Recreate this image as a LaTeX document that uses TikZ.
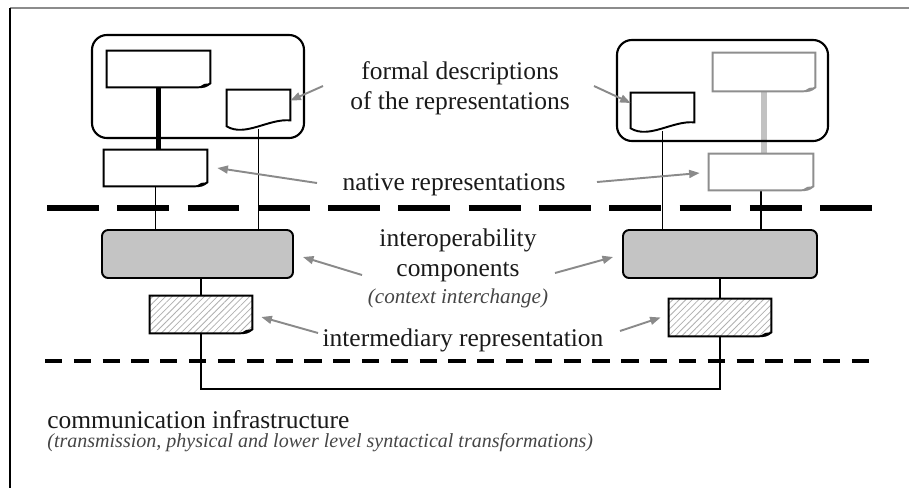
\documentclass[tikz,border=0pt]{standalone}
\usepackage{fontspec}
\setmainfont{Liberation Serif}
\usetikzlibrary{arrows.meta,calc,fit,backgrounds,patterns.meta}
\definecolor{arrowgray}{HTML}{8A8A8A}
\definecolor{compgray}{HTML}{C4C4C4}
\definecolor{docgray}{HTML}{8E8E8E}
\definecolor{linkgray}{HTML}{C2C2C2}
\definecolor{hatchgray}{HTML}{B0B0B0}
\definecolor{framegray}{HTML}{8C8C8C}
\definecolor{textblack}{HTML}{1A1A1A}
\definecolor{subtext}{HTML}{454545}

\newcommand\foldoc[3]{%
  \draw[#2] (#1.north west) -- (#1.north east) -- ($(#1.south east)+(0,-4)$)
    .. controls ($(#1.south east)+(-5,-0.5)$) .. ($(#1.south east)+(-13,0)$) -- (#1.south west) -- cycle;
  \fill[#3] ($(#1.south east)+(-12,0)$) .. controls ($(#1.south east)+(-5,-0.5)$) .. ($(#1.south east)+(0,-4)$)
    -- ($(#1.south east)+(-6,-3.5)$) -- cycle;}
\newcommand\wavedoc[1]{%
  \draw[docline,fill=white] ($(#1.south west)+(0,-3)$) -- (#1.north west) -- (#1.north east)
    -- ($(#1.south east)+(0,-9)$) .. controls ($(#1.south east)+(-22,-11)$) and ($(#1.south east)+(-45,8)$)
    .. ($(#1.south west)+(0,-3)$) -- cycle;}

\begin{document}
\begin{tikzpicture}[x=0.02cm,y=-0.02cm,
    sysbox/.style={draw,line width=1.2pt,rounded corners=8.5pt,inner sep=0pt},
    compbox/.style={draw,fill=compgray,line width=1.1pt,rounded corners=3.5pt,inner sep=0pt},
    docspot/.style={inner sep=0pt},
    docline/.style={line width=1.1pt},
    hatch/.style={preaction={fill=white},pattern={Lines[angle=45,distance=2.6pt,line width=0.45pt]},pattern color=hatchgray},
    link/.style={line width=1.1pt},
    pointer/.style={arrowgray,line width=1.1pt,-{Triangle[length=6pt,width=4.5pt]}},
    lbl/.style={font=\fontsize{14.5}{17}\selectfont,align=center,text=textblack,inner sep=0pt},
    sublbl/.style={font=\fontsize{12}{14}\selectfont\itshape,align=center,text=subtext,inner sep=0pt}]
  \useasboundingbox (0,0) rectangle (909,488);
  \draw[framegray,line width=1.5pt] (10,8) -- (909,8);
  \draw[line width=0.9pt] (10,8) -- (10,488);

  \node[sysbox,fit={(92,35) (304,138)}] (lsys) {};
  \node[sysbox,fit={(617,40) (828,141)}] (rsys) {};

  \node[docspot,fit={(107,51) (210,87)}] (lfA) {};
  \node[docspot,fit={(227,90) (290,129)}] (lfB) {};
  \node[docspot,fit={(104,150) (207,186)}] (lnat) {};
  \node[compbox,fit={(102,230) (293,278)}] (lint) {};
  \node[docspot,fit={(150,296) (252,333)}] (lmed) {};

  \node[docspot,fit={(713,53) (815,91)}] (rfD) {};
  \node[docspot,fit={(631,93) (694,131)}] (rfE) {};
  \node[docspot,fit={(709,154) (813,190)}] (rnat) {};
  \node[compbox,fit={(623,230) (817,278)}] (rint) {};
  \node[docspot,fit={(669,299) (771,336)}] (rmed) {};

  \coordinate (bus) at (0,389);
  \begin{scope}[on background layer]
    \draw[line width=3.4pt] (lfA.south) -- (lfA.south |- lnat.north);
    \draw[link] (lfB.south) -- (lfB.south |- lint.north);
    \draw[link] (lnat.south) -- (lnat.south |- lint.north);
    \draw[link] (lmed.north |- lint.south) -- (lmed.north);
    \draw[link] (lmed.south) -- (lmed.south |- bus) -| (rmed.south);
    \draw[link] (rmed.north |- rint.south) -- (rmed.north);
    \draw[link] (rfE.south) -- (rfE.south |- rint.north);
    \draw[link] (rnat.south) -- (rnat.south |- rint.north);
    \draw[linkgray,line width=3.6pt] (rfD.south) -- (rfD.south |- rnat.north);
  \end{scope}

  \foldoc{lfA}{docline,fill=white}{black}
  \foldoc{lnat}{docline,fill=white}{black}
  \foldoc{lmed}{docline,hatch}{black}
  \foldoc{rfD}{docline,docgray,fill=white}{docgray}
  \foldoc{rnat}{docline,docgray,fill=white}{docgray}
  \foldoc{rmed}{docline,hatch}{black}
  \wavedoc{lfB}
  \wavedoc{rfE}

  \draw[line width=3.4pt,dash pattern=on 29.5pt off 10.5pt] (47,208) -- (880,208);
  \draw[line width=2pt,dash pattern=on 9.8pt off 6.6pt] (45,361) -- (880,361);

  \node[lbl] (fdesc) at (460,88) {formal descriptions\\of the representations};
  \node[lbl] (natrep) at (454,185) {native representations};
  \node[lbl] (comp) at (458,255) {interoperability\\components};
  \node[sublbl] (ctx) at (458,298) {(context interchange)};
  \node[lbl] (medrep) at (463,340) {intermediary representation};
  \node[lbl,anchor=west] (infra) at (47,420) {communication infrastructure};
  \node[sublbl,anchor=west,font=\fontsize{11.4}{14}\selectfont\itshape] (trans) at (47,443) {(transmission, physical and lower level syntactical transformations)};

  \coordinate (a1) at (323,86);
  \coordinate (a2) at (594,86);
  \coordinate (a3) at (317,183);
  \coordinate (a4) at (597,182);
  \coordinate (a5) at (362,275);
  \coordinate (a6) at (555,273);
  \coordinate (a7) at (318,333);
  \coordinate (a8) at (620,331);
  \draw[pointer] (a1) -- ($(lfB.east)+(0,-9)$);
  \draw[pointer] (a2) -- ($(rfE.west)+(0,-9)$);
  \draw[pointer] (a3) -- ($(lnat.east)+(10,0)$);
  \draw[pointer] (a4) -- ($(rnat.west)+(-9,1)$);
  \draw[pointer] (a5) -- ($(lint.east)+(9,3)$);
  \draw[pointer] (a6) -- ($(rint.west)+(-9,3)$);
  \draw[pointer] (a7) -- ($(lmed.east)+(9,2.5)$);
  \draw[pointer] (a8) -- ($(rmed.west)+(-8,0)$);
\end{tikzpicture}
\end{document}
